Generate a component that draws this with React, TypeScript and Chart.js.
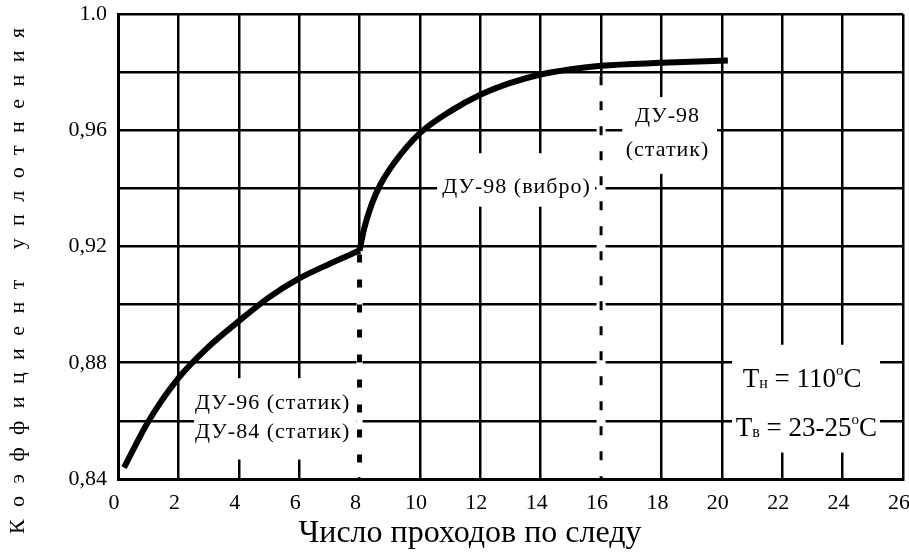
import React, { useEffect, useRef } from "react";
import { Chart, registerables } from "chart.js";
Chart.register(...registerables);

// Curve: Коэффициент уплотнения vs число проходов
const xStatic = [0.2, 1, 2, 3, 4, 5, 6, 7, 8];
const yStatic = [0.8439, 0.8597, 0.8747, 0.8855, 0.8943, 0.9025, 0.909, 0.914, 0.9186];
const xVibro = [8, 8.15, 8.4, 8.7, 9.2, 10, 11, 12, 13, 14, 15, 16, 18, 20.2];
const yVibro = [0.9186, 0.926, 0.9345, 0.9415, 0.9495, 0.959, 0.9665, 0.9722, 0.9763, 0.9792, 0.981, 0.9822, 0.9832, 0.984];

const xTickValues = [0, 2, 4, 6, 8, 10, 12, 14, 16, 18, 20, 22, 24, 26];
const xTickLabels = ["0", "2", "4", "6", "8", "10", "12", "14", "16", "18", "20", "22", "24", "26"];
const yTickValues = [0.84, 0.88, 0.92, 0.96, 1.0];
const yTickLabels = ["0,84", "0,88", "0,92", "0,96", "1.0"];

const xTitle = "Число проходов по следу";
const yTitle = "Коэффициент уплотнения";

// dashed boundaries between regimes: [x, yTop, yBottom]
const dividerX = [8, 16];
const dividerTop = [0.9186, 0.98];
const dividerBottom = [0.84, 0.84];

// white masks behind labels (data units)
const maskX0 = [2.52, 10.57, 16.7, 20.34];
const maskX1 = [7.9, 15.8, 19.84, 25.24];
const maskY0 = [0.8467, 0.9337, 0.945, 0.8491];
const maskY1 = [0.8747, 0.9521, 0.9714, 0.8862];

// plain labels
const labelTexts = ["ДУ-96 (статик)", "ДУ-84 (статик)", "ДУ-98 (вибро)", "ДУ-98", "(статик)"];
const labelX = [2.55, 2.55, 13.2, 18.2, 18.2];
const labelY = [0.866, 0.856, 0.9405, 0.965, 0.953];
const labelAlign: CanvasTextAlign[] = ["left", "left", "center", "center", "center"];

// temperature labels
const tempLines = [
  [{ t: "T", k: "n" }, { t: "н", k: "sub" }, { t: " = 110", k: "n" }, { t: "o", k: "sup" }, { t: "C", k: "n" }],
  [{ t: "T", k: "n" }, { t: "в", k: "sub" }, { t: " = 23-25", k: "n" }, { t: "o", k: "sup" }, { t: "C", k: "n" }],
];
const tempX = [22.66, 22.8];
const tempY = [0.8747, 0.8579];

const SERIF = "'Liberation Serif', 'Times New Roman', serif";

const overlayPlugin = {
  id: "overlay",
  beforeDatasetsDraw(chart: any) {
    const ctx = chart.ctx;
    const xs = chart.scales.x;
    const ys = chart.scales.y;
    ctx.save();
    ctx.fillStyle = "#ffffff";
    for (let i = 0; i < maskX0.length; i++) {
      const a = xs.getPixelForValue(maskX0[i]);
      const b = xs.getPixelForValue(maskX1[i]);
      const c = ys.getPixelForValue(maskY1[i]);
      const d = ys.getPixelForValue(maskY0[i]);
      ctx.fillRect(a, c, b - a, d - c);
    }
    ctx.strokeStyle = "#ffffff";
    for (let i = 0; i < dividerX.length; i++) {
      const px = xs.getPixelForValue(dividerX[i]);
      ctx.lineWidth = i === 0 ? 6 : 9;
      ctx.beginPath();
      ctx.moveTo(px, ys.getPixelForValue(dividerTop[i]) + 4);
      ctx.lineTo(px, ys.getPixelForValue(dividerBottom[i]) - 2);
      ctx.stroke();
    }
    ctx.restore();
  },
  afterDatasetsDraw(chart: any) {
    const ctx = chart.ctx;
    const xs = chart.scales.x;
    const ys = chart.scales.y;
    ctx.save();
    ctx.strokeStyle = "#000000";
    for (let i = 0; i < dividerX.length; i++) {
      const px = xs.getPixelForValue(dividerX[i]);
      ctx.lineWidth = i === 0 ? 5 : 3;
      ctx.setLineDash(i === 0 ? [8, 17] : [9, 16]);
      ctx.beginPath();
      ctx.moveTo(px, ys.getPixelForValue(dividerTop[i]) + 4);
      ctx.lineTo(px, ys.getPixelForValue(dividerBottom[i]));
      ctx.stroke();
    }
    ctx.setLineDash([]);
    ctx.fillStyle = "#000000";
    ctx.textBaseline = "middle";
    ctx.font = `22px ${SERIF}`;
    (ctx as any).letterSpacing = "1px";
    for (let i = 0; i < labelTexts.length; i++) {
      ctx.textAlign = labelAlign[i];
      ctx.fillText(labelTexts[i], xs.getPixelForValue(labelX[i]), ys.getPixelForValue(labelY[i]));
    }
    (ctx as any).letterSpacing = "0px";
    ctx.textAlign = "left";
    ctx.textBaseline = "alphabetic";
    const sizeOf = (k: string) => (k === "n" ? 27 : k === "sub" ? 16 : 15);
    const dyOf = (k: string) => (k === "n" ? 0 : k === "sub" ? 1 : -12);
    for (let i = 0; i < tempLines.length; i++) {
      const parts = tempLines[i];
      let w = 0;
      for (const p of parts) {
        ctx.font = `${sizeOf(p.k)}px ${SERIF}`;
        w += ctx.measureText(p.t).width;
      }
      let cx = xs.getPixelForValue(tempX[i]) - w / 2;
      const base = ys.getPixelForValue(tempY[i]) + 9;
      for (const p of parts) {
        ctx.font = `${sizeOf(p.k)}px ${SERIF}`;
        ctx.fillText(p.t, cx, base + dyOf(p.k));
        cx += ctx.measureText(p.t).width;
      }
    }
    ctx.restore();
  },
  afterDraw(chart: any) {
    const ctx = chart.ctx;
    ctx.save();
    ctx.fillStyle = "#000000";
    ctx.font = `32px ${SERIF}`;
    ctx.textAlign = "center";
    ctx.textBaseline = "middle";
    ctx.fillText(xTitle, 470, 534);
    ctx.translate(18, 281);
    ctx.rotate(-Math.PI / 2);
    ctx.font = `22px ${SERIF}`;
    const chars = Array.from(yTitle);
    let plain = 0;
    for (const c of chars) plain += ctx.measureText(c).width;
    const total = 506;
    const gap = (total - plain) / (chars.length - 1);
    let pos = -total / 2;
    ctx.textAlign = "left";
    for (const c of chars) {
      ctx.fillText(c, pos, 0);
      pos += ctx.measureText(c).width + gap;
    }
    ctx.restore();
  },
};

export default function App() {
  const ref = useRef<HTMLCanvasElement>(null);
  useEffect(() => {
    document.body.style.margin = "0";
    const canvas = ref.current!;
    const chart = new Chart(canvas, {
      type: "line",
      data: {
        datasets: [
          {
            data: xStatic.map((x, i) => ({ x, y: yStatic[i] })),
            borderColor: "#000000",
            borderWidth: 6,
            pointRadius: 0,
            cubicInterpolationMode: "monotone",
            borderCapStyle: "butt",
          },
          {
            data: xVibro.map((x, i) => ({ x, y: yVibro[i] })),
            borderColor: "#000000",
            borderWidth: 6,
            pointRadius: 0,
            cubicInterpolationMode: "monotone",
            borderCapStyle: "butt",
          },
        ],
      },
      options: {
        animation: false,
        responsive: false,
        events: [],
        layout: { padding: { top: 14, right: 6, left: 0, bottom: 0 } },
        plugins: { legend: { display: false }, tooltip: { enabled: false }, title: { display: false } },
        scales: {
          x: {
            type: "linear",
            min: 0,
            max: 26,
            afterBuildTicks: (s: any) => {
              s.ticks = xTickValues.map((v) => ({ value: v }));
            },
            afterFit: (s: any) => {
              s.height = 75;
              s.paddingLeft = 0;
              s.paddingRight = 0;
            },
            ticks: {
              autoSkip: false,
              maxRotation: 0,
              padding: 11,
              labelOffset: -4,
              color: "#000000",
              font: { family: SERIF, size: 22 },
              callback: (v: any) => {
                const i = xTickValues.indexOf(Number(v));
                return i >= 0 ? xTickLabels[i] : "";
              },
            },
            grid: { color: "#000000", lineWidth: 2.5, drawTicks: false },
            border: { color: "#000000", width: 3 },
          },
          y: {
            type: "linear",
            min: 0.84,
            max: 1.0,
            afterBuildTicks: (s: any) => {
              const t = [];
              for (let k = 0; k <= 8; k++) t.push({ value: Math.round((0.84 + k * 0.02) * 100) / 100 });
              s.ticks = t;
            },
            afterFit: (s: any) => {
              s.width = 118;
              s.paddingTop = 0;
              s.paddingBottom = 0;
            },
            ticks: {
              autoSkip: false,
              padding: 11,
              color: "#000000",
              font: { family: SERIF, size: 22 },
              callback: (v: any) => {
                const n = Number(v);
                const i = yTickValues.findIndex((t) => Math.abs(t - n) < 1e-6);
                return i >= 0 ? yTickLabels[i] : "";
              },
            },
            grid: { color: "#000000", lineWidth: 2.5, drawTicks: false },
            border: { color: "#000000", width: 3 },
          },
        },
      },
      plugins: [overlayPlugin],
    });
    return () => chart.destroy();
  }, []);
  return (
    <div style={{ position: "absolute", left: 0, top: 0, width: 909, height: 554, background: "#fff" }}>
      <canvas ref={ref} width={909} height={554} />
    </div>
  );
}
